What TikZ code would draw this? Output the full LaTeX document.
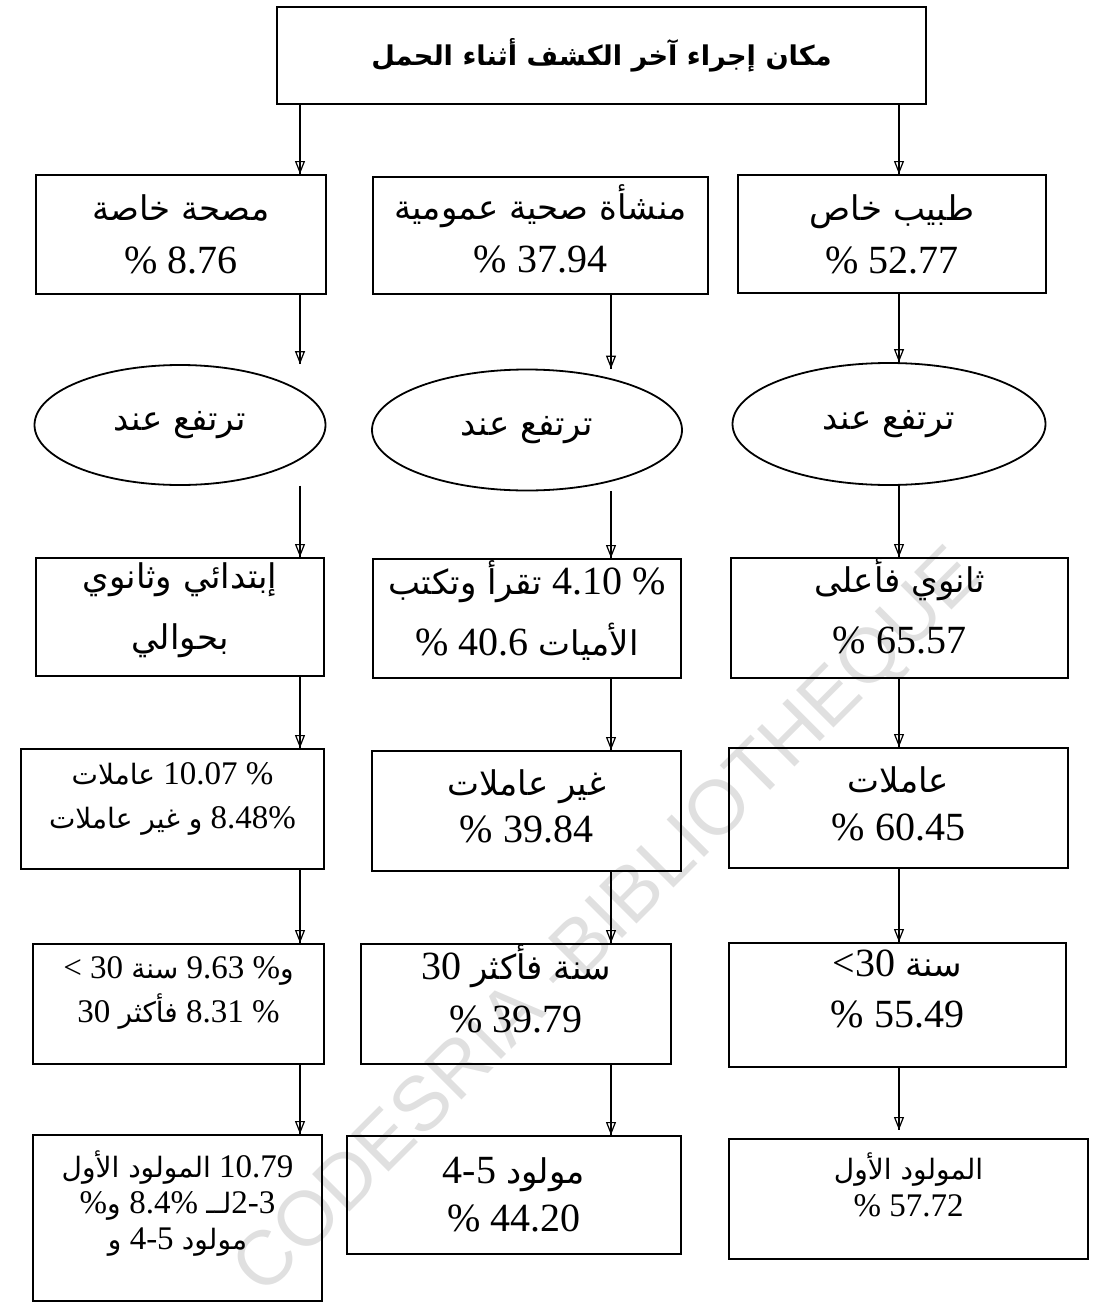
\documentclass[tikz,border=0pt]{standalone}
\usepackage{fontspec}
\setmainfont{Liberation Serif}
\newfontfamily\arabicfont[Script=Arabic,Scale=0.85]{DejaVu Sans}
\newfontfamily\wmfont{Liberation Sans}
\TeXXeTstate=1
\usetikzlibrary{arrows.meta,shapes.geometric}
\newcommand{\artxt}[1]{{\arabicfont\beginR #1\endR}}
\begin{document}
\begin{tikzpicture}[x=1pt,y=-1pt,
  box/.style={draw, line width=2pt, rectangle, anchor=north west, inner sep=0pt, align=center},
  oval/.style={draw, line width=1.8pt, ellipse, inner sep=0pt, align=center},
  arr/.style={line width=1.2pt, -{Triangle[open,length=13pt,width=10pt,line width=1.2pt]},
              postaction={draw, line width=1.2pt, arrows=-}},
  big/.style={font=\fontsize{40}{#1}\selectfont},
  big/.default=53,
  small/.style={font=\fontsize{33}{#1}\selectfont},
  small/.default=44,
  lift/.style={text depth=#1},
  wm/.style={text=black!12, font=\wmfont\fontsize{77}{77}\selectfont}
]
\useasboundingbox (0,0) rectangle (1093,1303);
\node[wm, rotate=45] (wmark) at (610,924) {CODESRIA -BIBLIOTHEQUE};
\coordinate (colA) at (300,0);
\coordinate (colB) at (611,0);
\coordinate (colC) at (899,0);
% top
\node[box, minimum width=649pt, minimum height=97pt, font=\fontsize{32}{40}\selectfont\bfseries] (T) at (276,6) {\artxt{مكان إجراء آخر الكشف أثناء الحمل}};
% row 1
\node[box, big, minimum width=290pt, minimum height=119pt] (A1) at (35,174) {\artxt{مصحة خاصة}\\\% 8.76};
\node[box, big, lift=14pt, minimum width=335pt, minimum height=117pt] (B1) at (372,176) {\artxt{منشأة صحية عمومية}\\\% 37.94};
\node[box, big, minimum width=308pt, minimum height=118pt] (C1) at (737,174) {\artxt{طبيب خاص}\\\% 52.77};
% row 2
\node[oval, big, minimum width=291pt, minimum height=120pt] (A2) at (180,425) {\artxt{ترتفع عند}};
\node[oval, big, minimum width=310pt, minimum height=121pt] (B2) at (527,430) {\artxt{ترتفع عند}};
\node[oval, big, minimum width=313pt, minimum height=122pt] (C2) at (889,424) {\artxt{ترتفع عند}};
% row 3
\node[box, big=61, lift=22pt, minimum width=288pt, minimum height=118pt] (A3) at (35,557) {\artxt{إبتدائي وثانوي}\\\artxt{بحوالي}};
\node[box, big=61, lift=20pt, minimum width=308pt, minimum height=119pt] (B3) at (372,558) {\artxt{تقرأ وتكتب} 4.10 \%\\\% 40.6 \artxt{الأميات}};
\node[box, big=61, lift=24pt, minimum width=337pt, minimum height=118pt] (C3) at (730,557) {\artxt{ثانوي فأعلى}\\\% 65.57};
% row 4
\node[box, small, lift=26pt, minimum width=303pt, minimum height=120pt] (A4) at (20,748) {\artxt{عاملات} 10.07 \%\\\artxt{و غير عاملات} 8.48\%};
\node[box, big=47, lift=10pt, minimum width=309pt, minimum height=120pt] (B4) at (371,750) {\artxt{غير عاملات}\\\% 39.84};
\node[box, big=48, lift=8pt, minimum width=339pt, minimum height=120pt] (C4) at (728,747) {\artxt{عاملات}\\\% 60.45};
% row 5
\node[box, small, lift=29pt, minimum width=291pt, minimum height=120pt] (A5) at (32,943) {< 30 \artxt{سنة} 9.63 \%\artxt{و}\\30 \artxt{فأكثر} 8.31 \%};
\node[box, big=53, lift=30pt, minimum width=310pt, minimum height=120pt] (B5) at (360,943) {30 \artxt{سنة فأكثر}\\\% 39.79};
\node[box, big=51, lift=32pt, minimum width=337pt, minimum height=124pt] (C5) at (728,942) {<30 \artxt{سنة}\\\% 55.49};
% row 6
\node[box, small=36, lift=36pt, minimum width=289pt, minimum height=166pt] (A6) at (32,1134) {\artxt{المولود الأول} 10.79\\\%\artxt{ و}8.4\% \artxt{لــ}2-3\\\artxt{و} 4-5 \artxt{مولود}};
\node[box, big=48, minimum width=334pt, minimum height=118pt] (B6) at (346,1135) {4-5 \artxt{مولود}\\\% 44.20};
\node[box, small=37, lift=28pt, minimum width=359pt, minimum height=120pt] (C6) at (728,1138) {\artxt{المولود الأول}\\\% 57.72};
% arrows
\draw[arr] (T.south -| colA) -- (A1.north -| colA);
\draw[arr] (T.south -| colC) -- (C1.north -| colC);
\draw[arr] (A1.south -| colA) -- (A2.north -| colA);
\draw[arr] (B1.south -| colB) -- (B2.north -| colB);
\draw[arr] (C1.south -| colC) -- (C2.north -| colC);
\draw[arr] (A2.south -| colA) -- (A3.north -| colA);
\draw[arr] (B2.south -| colB) -- (B3.north -| colB);
\draw[arr] (C2.south -| colC) -- (C3.north -| colC);
\draw[arr] (A3.south -| colA) -- (A4.north -| colA);
\draw[arr] (B3.south -| colB) -- (B4.north -| colB);
\draw[arr] (C3.south -| colC) -- (C4.north -| colC);
\draw[arr] (A4.south -| colA) -- (A5.north -| colA);
\draw[arr] (B4.south -| colB) -- (B5.north -| colB);
\draw[arr] (C4.south -| colC) -- (C5.north -| colC);
\draw[arr] (A5.south -| colA) -- (A6.north -| colA);
\draw[arr] (B5.south -| colB) -- (B6.north -| colB);
\draw[arr] (C5.south -| colC) -- ([yshift=8pt]C6.north -| colC);
\end{tikzpicture}
\end{document}
